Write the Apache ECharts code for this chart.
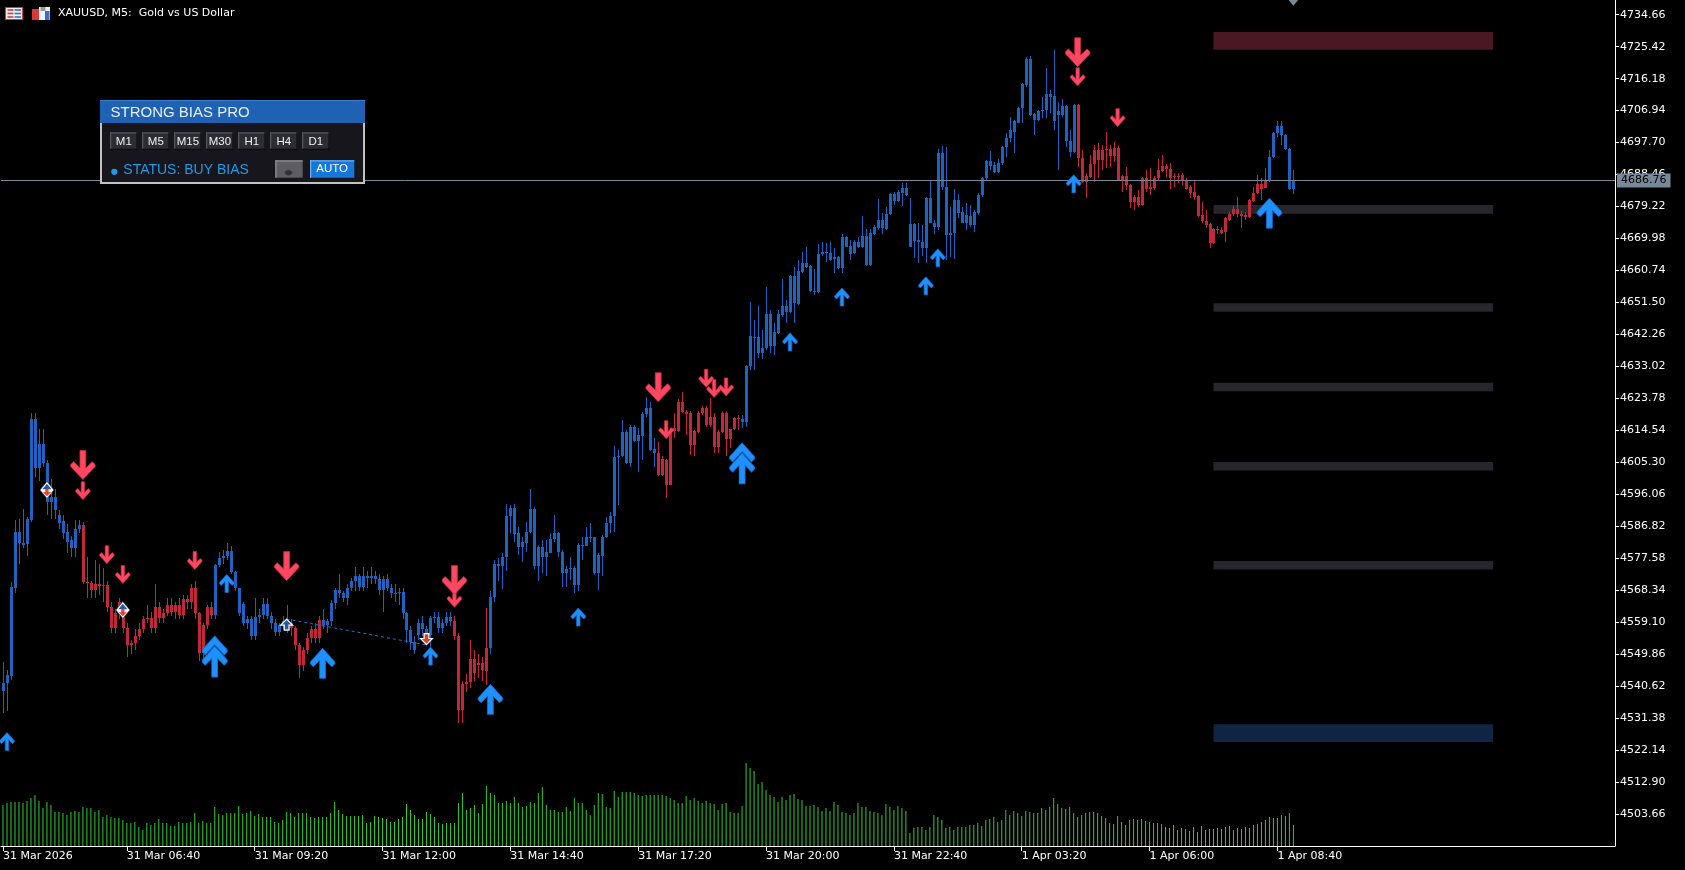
<!DOCTYPE html>
<html><head><meta charset="utf-8">
<script src="https://cdn.jsdelivr.net/npm/echarts@6.0.0/dist/echarts.min.js"></script>
<style>html,body{margin:0;padding:0;background:#000;}#c{width:1685px;height:870px;}</style>
</head><body><div id="c"></div>
<script>
// ---------- DATA (XAUUSD M5) ----------
const OPEN=[
4539.1,4541.5,4543.4,4569.0,4585.3,4581.9,4581.7,4588.6,4617.7,4603.6,
4610.6,4605.0,4593.7,4595.4,4590.1,4588.2,4585.3,4582.9,4580.5,4586.0,
4587.2,4570.8,4570.3,4568.4,4570.1,4569.6,4569.9,4563.6,4557.3,4561.7,
4561.7,4557.3,4552.5,4553.0,4555.0,4557.0,4560.0,4560.3,4557.3,4563.4,
4560.4,4561.7,4564.0,4561.9,4564.0,4561.2,4565.7,4564.8,4568.9,4561.7,
4550.1,4558.3,4563.4,4561.2,4575.6,4577.6,4578.1,4579.8,4573.7,4568.9,
4564.4,4559.0,4560.0,4555.0,4560.5,4561.2,4564.4,4561.0,4558.8,4556.4,
4558.3,4559.3,4558.8,4557.4,4552.5,4546.7,4551.1,4554.4,4557.0,4554.5,
4559.8,4558.3,4559.3,4564.6,4568.4,4567.5,4566.0,4569.0,4570.9,4572.3,
4569.3,4572.3,4571.8,4572.3,4571.6,4568.5,4571.5,4569.0,4567.5,4567.6,
4567.7,4561.7,4556.9,4553.5,4555.4,4558.8,4557.0,4555.5,4560.2,4560.6,
4557.4,4559.0,4560.7,4559.5,4555.0,4533.8,4541.3,4541.9,4548.4,4546.7,
4547.2,4545.1,4551.6,4566.5,4575.9,4575.2,4577.9,4589.8,4592.0,4584.8,
4580.9,4581.9,4585.3,4591.7,4575.4,4580.9,4577.9,4579.2,4583.1,4584.8,
4579.5,4573.2,4574.4,4574.7,4569.9,4581.4,4581.2,4583.6,4583.6,4573.2,
4578.2,4583.6,4587.7,4589.8,4606.7,4607.0,4614.2,4605.2,4615.6,4611.6,
4612.9,4619.3,4620.9,4609.1,4608.1,4601.6,4606.0,4598.8,4614.4,4614.4,
4622.8,4619.9,4619.5,4610.3,4614.2,4619.5,4620.9,4616.1,4618.3,4609.6,
4614.2,4619.5,4611.9,4614.8,4618.0,4617.7,4617.0,4633.0,4641.6,4641.4,
4637.0,4638.3,4648.2,4638.9,4642.8,4647.9,4650.5,4648.8,4659.1,4651.1,
4660.4,4662.8,4662.0,4654.9,4654.6,4665.5,4666.2,4665.9,4664.0,4664.6,
4661.6,4670.3,4667.8,4665.7,4669.1,4667.6,4670.7,4662.3,4671.3,4672.9,
4675.3,4672.6,4677.2,4682.8,4680.9,4683.0,4684.5,4674.2,4674.2,4669.6,
4669.1,4667.2,4681.6,4674.6,4673.2,4694.8,4685.0,4671.0,4671.7,4681.1,
4677.5,4674.6,4676.5,4673.9,4677.3,4682.6,4687.4,4692.4,4691.2,4689.3,
4691.7,4696.3,4698.9,4700.9,4703.5,4707.6,4714.3,4722.0,4706.0,4704.2,
4706.9,4707.1,4711.8,4711.2,4705.7,4705.7,4708.3,4698.3,4695.1,4708.6,
4693.2,4686.4,4687.9,4691.5,4695.6,4692.7,4695.6,4695.8,4693.8,4696.0,
4686.9,4688.1,4685.5,4680.6,4682.1,4679.7,4687.4,4684.2,4684.5,4687.4,
4689.6,4690.8,4690.0,4687.7,4688.1,4688.3,4686.9,4684.8,4683.5,4682.3,
4676.8,4675.1,4674.2,4668.8,4672.6,4672.4,4672.0,4675.3,4677.1,4678.4,
4677.1,4676.8,4676.1,4680.9,4683.0,4685.7,4684.5,4686.7,4693.4,4700.6,
4702.5,4699.9,4695.8,4684.2];
const CLOSE=[
4541.5,4543.9,4569.4,4585.3,4581.9,4581.4,4588.8,4617.7,4603.6,4610.6,
4605.0,4593.7,4595.4,4591.5,4587.9,4585.0,4582.4,4580.5,4586.0,4587.2,
4570.8,4570.3,4568.4,4570.1,4569.6,4569.9,4563.6,4557.3,4561.7,4565.0,
4557.3,4552.5,4553.0,4555.0,4557.0,4560.0,4560.3,4557.3,4563.4,4560.4,
4561.7,4564.0,4561.9,4564.0,4561.2,4565.7,4564.8,4568.9,4561.7,4550.1,
4558.3,4563.4,4561.2,4575.6,4577.6,4578.1,4579.8,4573.7,4568.9,4561.7,
4559.0,4560.0,4555.0,4560.5,4561.2,4564.4,4561.0,4558.8,4556.4,4558.3,
4559.3,4558.8,4557.4,4552.5,4546.7,4551.1,4554.4,4557.0,4554.5,4559.8,
4558.3,4559.3,4564.6,4568.4,4567.5,4566.0,4569.0,4570.9,4572.3,4569.3,
4572.3,4571.8,4572.3,4571.6,4568.5,4571.5,4569.0,4567.5,4567.6,4567.7,
4561.7,4556.9,4553.5,4551.0,4558.8,4557.0,4555.5,4560.2,4560.6,4557.4,
4559.0,4560.7,4559.5,4555.0,4533.8,4541.3,4541.9,4548.4,4544.3,4547.2,
4545.3,4551.6,4566.5,4575.9,4575.2,4578.0,4589.8,4592.0,4584.6,4580.9,
4582.4,4585.3,4591.7,4575.4,4580.9,4577.9,4579.5,4583.1,4584.8,4579.5,
4573.2,4574.4,4574.7,4569.9,4581.4,4581.2,4583.6,4583.8,4573.2,4578.5,
4583.6,4587.7,4589.8,4606.7,4607.1,4614.2,4605.2,4615.6,4611.6,4613.2,
4619.3,4620.9,4608.9,4608.1,4601.6,4606.2,4598.8,4614.4,4615.1,4622.8,
4619.7,4619.3,4610.3,4614.4,4619.5,4620.9,4616.1,4618.3,4609.6,4614.2,
4619.5,4611.9,4614.8,4618.0,4617.7,4617.0,4633.2,4641.8,4641.1,4637.0,
4638.3,4648.2,4638.9,4643.1,4648.2,4650.5,4648.8,4659.1,4651.3,4660.7,
4662.8,4661.8,4654.9,4654.6,4665.5,4666.2,4665.9,4663.8,4664.6,4661.6,
4670.3,4667.6,4665.5,4669.1,4667.6,4670.7,4662.3,4671.5,4673.2,4675.3,
4672.9,4677.2,4682.8,4680.9,4683.4,4684.5,4682.6,4667.6,4669.4,4669.1,
4667.2,4681.6,4674.6,4673.2,4694.8,4685.0,4671.0,4671.7,4681.1,4677.3,
4674.6,4676.8,4673.9,4677.5,4682.6,4687.4,4692.4,4690.9,4689.3,4691.7,
4696.5,4698.9,4701.2,4703.8,4707.6,4714.6,4722.0,4705.7,4704.2,4706.9,
4707.1,4711.8,4711.0,4703.8,4706.9,4708.3,4698.3,4695.1,4708.6,4693.2,
4686.4,4688.1,4691.5,4695.6,4692.7,4695.6,4695.8,4693.8,4696.0,4686.9,
4688.1,4685.5,4680.6,4682.1,4679.7,4687.4,4684.2,4685.0,4687.4,4689.8,
4690.8,4690.0,4687.4,4688.1,4687.7,4686.9,4684.2,4683.2,4682.1,4676.5,
4674.9,4673.9,4668.8,4672.6,4672.4,4671.7,4675.8,4677.1,4678.4,4677.1,
4676.5,4676.1,4681.1,4683.0,4685.7,4684.2,4686.7,4693.6,4700.6,4702.5,
4699.9,4695.8,4684.2,4686.76];
const HIGH=[
4547.7,4545.3,4570.8,4588.5,4589.0,4591.7,4589.6,4619.5,4619.5,4614.8,
4614.8,4606.0,4600.5,4597.5,4591.5,4590.0,4587.5,4584.0,4588.5,4588.5,
4588.0,4578.0,4571.0,4577.0,4576.0,4574.8,4571.0,4565.0,4563.0,4566.0,
4564.0,4559.0,4554.0,4557.0,4559.0,4561.0,4564.0,4562.0,4570.0,4565.0,
4563.0,4566.0,4566.0,4565.0,4566.0,4567.0,4567.0,4570.0,4571.0,4562.0,
4559.0,4564.0,4565.0,4576.0,4579.5,4580.0,4582.0,4581.0,4574.0,4569.0,
4565.0,4561.0,4561.0,4566.0,4563.0,4566.0,4566.0,4562.0,4560.0,4559.0,
4561.0,4564.0,4560.0,4558.0,4553.0,4552.0,4556.0,4558.0,4559.0,4561.0,
4563.0,4560.0,4565.5,4569.0,4573.0,4568.0,4570.0,4572.0,4575.0,4573.0,
4575.0,4574.0,4575.0,4574.0,4573.0,4572.5,4573.0,4570.0,4570.0,4569.0,
4569.0,4562.0,4558.0,4555.0,4560.0,4561.0,4558.0,4561.0,4562.0,4562.0,
4560.0,4562.0,4562.0,4561.0,4556.0,4542.0,4544.0,4554.0,4551.0,4550.0,
4549.0,4563.1,4568.0,4577.0,4577.5,4579.2,4593.3,4593.0,4593.3,4586.7,
4583.8,4588.0,4597.5,4592.5,4581.4,4582.9,4582.9,4584.8,4590.1,4585.3,
4580.0,4575.2,4577.9,4575.2,4581.9,4583.8,4586.7,4587.9,4583.8,4579.0,
4584.3,4589.6,4590.8,4610.0,4608.9,4617.5,4614.6,4616.1,4616.1,4615.1,
4619.9,4624.3,4622.8,4612.2,4611.3,4607.0,4606.2,4615.1,4619.5,4623.5,
4625.7,4620.4,4620.0,4614.6,4620.0,4621.6,4621.6,4623.8,4619.5,4614.5,
4620.0,4620.0,4615.0,4618.5,4619.0,4619.0,4633.4,4651.7,4646.4,4650.5,
4643.6,4656.1,4649.3,4645.5,4649.3,4658.2,4652.2,4659.4,4661.8,4663.8,
4666.2,4667.4,4662.3,4661.1,4668.4,4669.1,4668.6,4669.1,4667.2,4664.9,
4671.3,4670.7,4669.6,4669.6,4670.3,4676.5,4672.6,4672.6,4673.9,4681.3,
4677.4,4679.0,4683.2,4683.5,4684.0,4686.1,4685.9,4681.6,4674.5,4674.4,
4673.9,4682.1,4686.9,4675.4,4695.8,4696.7,4696.5,4679.2,4684.2,4682.9,
4679.2,4680.1,4679.7,4678.2,4683.0,4687.9,4692.7,4695.4,4692.2,4692.9,
4696.7,4700.6,4705.0,4704.2,4708.1,4714.8,4722.5,4722.7,4706.2,4707.1,
4711.0,4719.2,4712.9,4724.5,4709.5,4710.2,4708.6,4701.3,4708.9,4708.9,
4695.6,4688.8,4694.1,4697.0,4697.5,4697.0,4700.9,4697.0,4698.0,4697.0,
4688.3,4690.6,4685.7,4682.6,4684.0,4687.7,4689.8,4690.3,4688.1,4692.9,
4694.1,4691.5,4691.9,4688.8,4689.0,4688.8,4687.4,4685.5,4686.7,4682.6,
4680.6,4678.2,4674.4,4672.9,4673.6,4673.4,4676.3,4677.5,4679.4,4681.9,
4677.8,4677.5,4681.3,4685.0,4688.3,4687.4,4690.3,4695.6,4700.9,4703.8,
4703.8,4700.2,4696.1,4689.8];
const LOW=[
4532.8,4533.3,4542.5,4567.5,4576.0,4580.5,4578.1,4588.0,4601.0,4600.0,
4604.0,4590.0,4589.0,4588.8,4586.0,4583.0,4579.0,4578.0,4578.0,4585.0,
4570.0,4566.0,4566.0,4566.0,4567.0,4565.0,4562.0,4556.0,4556.0,4560.0,
4556.0,4549.0,4550.0,4551.0,4554.0,4556.0,4559.0,4556.0,4556.0,4559.0,
4559.0,4561.0,4561.0,4560.0,4560.0,4560.0,4563.0,4563.0,4560.0,4548.0,
4547.0,4557.0,4560.0,4560.0,4575.0,4576.0,4577.0,4573.0,4568.0,4561.0,
4558.0,4557.0,4554.0,4554.0,4559.0,4560.0,4560.0,4557.0,4555.0,4555.0,
4557.0,4556.0,4555.0,4551.0,4543.0,4545.0,4550.0,4553.0,4553.0,4553.0,
4557.0,4556.0,4558.0,4563.0,4566.0,4565.0,4564.0,4568.0,4568.0,4568.0,
4568.0,4569.0,4570.0,4570.0,4567.0,4562.0,4568.0,4566.0,4565.0,4564.0,
4560.0,4553.0,4551.0,4550.0,4554.0,4555.0,4554.0,4552.0,4559.0,4556.0,
4556.0,4558.0,4558.0,4554.0,4530.0,4530.0,4539.0,4540.0,4542.0,4543.0,
4542.0,4541.0,4550.0,4565.0,4571.0,4568.6,4574.0,4585.0,4582.4,4578.5,
4576.6,4579.5,4585.0,4574.4,4571.1,4573.2,4572.3,4579.0,4582.4,4578.0,
4569.2,4569.2,4571.3,4567.6,4568.0,4577.1,4581.0,4582.4,4572.8,4568.4,
4572.5,4583.4,4585.0,4585.3,4593.0,4606.8,4604.8,4603.9,4611.3,4602.6,
4606.0,4618.5,4608.7,4603.9,4601.2,4601.2,4594.9,4598.8,4612.2,4614.0,
4619.5,4613.2,4607.4,4607.1,4613.9,4619.0,4615.6,4615.6,4608.1,4608.1,
4613.7,4607.0,4609.3,4614.7,4614.7,4615.1,4615.6,4632.0,4632.0,4635.4,
4635.1,4637.8,4636.8,4636.3,4642.5,4647.4,4645.5,4648.4,4645.5,4650.8,
4659.9,4661.4,4654.6,4653.7,4654.1,4664.9,4663.3,4663.6,4659.9,4661.1,
4660.1,4667.4,4663.8,4665.5,4667.2,4667.2,4662.0,4662.0,4671.0,4672.4,
4671.3,4672.4,4676.8,4679.7,4680.6,4679.4,4682.3,4667.4,4664.3,4663.0,
4664.9,4663.0,4674.4,4671.3,4672.4,4684.0,4663.8,4664.7,4664.2,4675.8,
4674.4,4672.5,4673.4,4672.0,4676.8,4682.1,4686.9,4689.8,4689.0,4689.0,
4691.2,4693.4,4698.0,4694.8,4703.3,4703.3,4713.9,4705.4,4699.9,4704.0,
4704.7,4704.7,4706.2,4701.3,4689.8,4705.2,4696.5,4693.6,4694.6,4690.7,
4685.9,4681.6,4687.4,4686.4,4687.4,4689.8,4690.3,4690.6,4692.2,4686.7,
4683.5,4684.0,4678.7,4678.2,4679.0,4679.4,4683.5,4682.6,4684.0,4686.7,
4689.3,4687.7,4684.2,4684.8,4685.9,4685.5,4684.0,4681.6,4681.1,4676.3,
4674.6,4672.9,4667.2,4668.4,4671.3,4671.3,4669.1,4675.1,4676.5,4676.3,
4672.9,4675.3,4675.8,4680.6,4682.8,4681.1,4684.5,4686.4,4693.2,4699.4,
4697.0,4695.6,4684.0,4682.9];
const VOLUME=[
820,860,880,880,880,860,900,960,1020,900,
760,880,820,680,680,660,620,680,700,680,
780,760,760,680,720,580,620,580,560,560,
520,460,460,480,380,320,460,420,460,540,
460,460,400,400,480,460,460,480,660,460,
500,460,460,780,640,620,660,660,660,800,
640,660,700,600,640,580,580,580,480,460,
520,680,660,580,660,660,660,580,560,580,
580,580,660,880,720,640,600,600,600,600,
620,460,480,600,580,560,540,480,480,540,
580,840,720,620,540,540,680,640,580,460,
440,460,460,460,860,1060,720,760,820,660,
840,1200,1060,1020,860,860,900,860,980,860,
780,800,880,860,1060,1180,820,720,720,680,
680,780,700,960,860,860,720,620,820,1060,
1040,780,760,1100,980,1080,1080,1080,1060,1020,
1000,1020,1020,1020,1020,1020,1000,960,920,860,
860,1000,920,960,900,860,900,860,840,720,
840,860,680,660,660,800,1660,1560,1500,1240,
1280,1120,1020,980,880,980,920,1020,1040,940,
920,800,800,820,780,700,760,
700,880,820,680,660,620,660,860,780,780,700,680,660,620,840,780,720,800,760,700,
260,360,380,380,320,380,620,580,520,360,380,320,380,380,380,420,420,460,400,520,540,580,480,520,
720,620,700,660,600,700,680,660,660,760,720,780,
960,
840,760,740,780,660,580,620,660,680,680,660,600,560,460,440,600,480,420,520,540,
520,540,500,480,460,460,440,380,360,420,320,360,340,300,380,280,400,320,340,340,
360,340,380,400,320,360,340,380,360,420,440,480,520,580,560,560,620,600,660,420];
const BIAS_SEGMENTS=[[0,19,'buy'],[20,52,'sell'],[53,71,'buy'],[72,79,'sell'],[80,112,'buy'],[113,121,'sell'],[122,163,'buy'],[164,184,'sell'],[185,268,'buy'],[269,316,'sell'],[317,323,'buy']];
const TICK_IDX=[0,31,63,95,127,159,191,223,255,287,319];
const TICK_LABELS=['31 Mar 2026','31 Mar 06:40','31 Mar 09:20','31 Mar 12:00','31 Mar 14:40','31 Mar 17:20','31 Mar 20:00','31 Mar 22:40','1 Apr 03:20','1 Apr 06:00','1 Apr 08:40'];
const Y_TICKS=[4503.66,4512.90,4522.14,4531.38,4540.62,4549.86,4559.10,4568.34,4577.58,4586.82,4596.06,4605.30,4614.54,4623.78,4633.02,4642.26,4651.50,4660.74,4669.98,4679.22,4688.46,4697.70,4706.94,4716.18,4725.42,4734.66];
const LAST_PRICE=4686.76;
const ZONES=[[4724.55,4729.66,'sell'],[4677.15,4679.66,'level'],[4648.8,4651.3,'level'],[4625.8,4628.3,'level'],[4602.9,4605.4,'level'],[4574.3,4576.8,'level'],[4524.5,4529.6,'buy']];
const ZONE_FROM=303, ZONE_TO=373;
const SMALL_UP=[[1,4524.6],[56,4570.3],[107,4549.3],[144,4560.6],[197,4640.1],[210,4653.1],[231,4656.3],[234,4664.4],[268,4685.8]];
const BIG_UP=[[80,4547.2],[122,4536.8],[317,4677.3]];
const DOUBLE_UP=[[53,4549.2],[185,4605.0]];
const SMALL_DOWN=[[20,4597.1],[26,4578.6],[30,4572.9],[48,4576.9],[113,4566.0],[166,4614.7],[176,4629.6],[178,4626.6],[181,4627.1],[269,4716.7],[279,4704.9]];
const BIG_DOWN=[[20,4604.5],[71,4575.3],[113,4571.3],[164,4627.0],[269,4723.8]];
const DIAMONDS=[[11,4597.3],[30,4562.6]];
const SIGNAL_UP=[[71,4558.4]];
const SIGNAL_DOWN=[[106,4554.2]];
const TREND=[[71,4560.0],[106,4552.5]];
const LAST_MARK=[[323,4738.1]];
const TF_BUTTONS=['M1','M5','M15','M30','H1','H4','D1'];

// ---------- BUILD ----------
const NCAT=404;
const CATS=[];
for(let k=0;k<NCAT;k++){
  if(k<=226){const m=245+5*k;CATS.push('31.03 '+String(Math.floor(m/60)).padStart(2,'0')+':'+String(m%60).padStart(2,'0'));}
  else if(k<OPEN.length){const m=60+5*(k-227);CATS.push('01.04 '+String(Math.floor(m/60)).padStart(2,'0')+':'+String(m%60).padStart(2,'0'));}
  else CATS.push('f'+k);
}
const BLUE='#1F63C1', RED='#C3283A';
function biasColor(k){for(const s of BIAS_SEGMENTS){if(k>=s[0]&&k<=s[1])return s[2]==='buy'?BLUE:RED;}return BLUE;}
const candleRows=OPEN.map((o,k)=>[k,o,CLOSE[k],LOW[k],HIGH[k]]);
const ZONE_COLORS={sell:'#4A1822',level:'#26262C',buy:'#102446'};

const P_DOWN='path://M3.8,0L6.2,0L6.2,7.2L8.8,4.6L10,5.8L10,6.6L5,12L0,6.6L0,5.8L1.2,4.6L3.8,7.2Z';
const P_UP='path://M3.8,12L6.2,12L6.2,4.8L8.8,7.4L10,6.2L10,5.4L5,0L0,5.4L0,6.2L1.2,7.4L3.8,4.8Z';
const P_DUP='path://M5,0L0,5.4L0,6.2L1.2,7.4L5,3.4L8.8,7.4L10,6.2L10,5.4ZM3.8,16L6.2,16L6.2,8.8L8.8,11.4L10,10.2L10,9.4L5,4L0,9.4L0,10.2L1.2,11.4L3.8,8.8Z';
const P_SIG_UP='path://M5,0L10,5L7,5L7,9L3,9L3,5L0,5Z';
const P_SIG_DN='path://M3,0L7,0L7,4L10,4L5,9L0,4L3,4Z';

function marks(data,symbol,size,fill,stroke,bw,z,extra){
  return Object.assign({type:'scatter',data:data,symbol:symbol,symbolSize:size,silent:true,z:z,
    itemStyle:{color:fill,borderColor:stroke,borderWidth:bw,opacity:1},emphasis:{disabled:true}},extra||{});
}

const FONT_AX='"DejaVu Sans", sans-serif';
const FONT_UI='"Liberation Sans", Arial, sans-serif';

// panel graphics
const G=[];
G.push({type:'rect',shape:{x:5.5,y:7.5,width:17,height:12},style:{fill:'#F2F2F2',stroke:'#D83A3A',lineWidth:1.2},z:100});
[10,13.5,17].forEach(y=>{G.push({type:'rect',shape:{x:7.5,y:y-0.8,width:6,height:1.6},style:{fill:'#D83A3A'},z:101});G.push({type:'rect',shape:{x:14.5,y:y-0.8,width:6.5,height:1.6},style:{fill:'#2F6FD0'},z:101});});
G.push({type:'rect',shape:{x:32,y:9,width:7,height:11},style:{fill:'#D83A3A'},z:100});
G.push({type:'rect',shape:{x:39,y:7,width:11,height:13},style:{fill:'#F2F2F2'},z:100});
G.push({type:'rect',shape:{x:40.5,y:7,width:5,height:4},style:{fill:'#9A9A9A'},z:101});
G.push({type:'rect',shape:{x:45,y:11,width:4.5,height:9},style:{fill:'#2F6FD0'},z:101});
G.push({type:'text',style:{text:'XAUUSD, M5:  Gold vs US Dollar',x:58,y:13.5,fill:'#FFFFFF',font:'11px '+FONT_AX,verticalAlign:'middle',align:'left'},z:100});
G.push({type:'rect',shape:{x:101,y:101,width:263,height:82},style:{fill:'#16161C',stroke:'#C2C2C2',lineWidth:2},z:100});
G.push({type:'rect',shape:{x:100,y:100,width:265,height:23},style:{fill:'#1F62B3'},z:101});
G.push({type:'rect',shape:{x:100,y:100,width:265,height:1},style:{fill:'#3D80D2'},z:102});
G.push({type:'text',style:{text:'STRONG BIAS PRO',x:110.5,y:112.5,fill:'#E8EEF6',font:'15px '+FONT_UI,verticalAlign:'middle',align:'left'},z:102});
TF_BUTTONS.forEach((t,i)=>{
  const x=110+32*i,y=132.3,w=27.7,h=17.7;
  G.push({type:'rect',shape:{x:x,y:y,width:w,height:h},style:{fill:'#2C2C33'},z:101});
  G.push({type:'rect',shape:{x:x,y:y,width:w,height:1.3},style:{fill:'#56565E'},z:102});
  G.push({type:'rect',shape:{x:x,y:y,width:1.3,height:h},style:{fill:'#56565E'},z:102});
  G.push({type:'rect',shape:{x:x,y:y+h-1.3,width:w,height:1.3},style:{fill:'#0E0E11'},z:102});
  G.push({type:'rect',shape:{x:x+w-1.3,y:y,width:1.3,height:h},style:{fill:'#0E0E11'},z:102});
  G.push({type:'text',style:{text:t,x:x+w/2,y:y+h/2+0.3,fill:'#F0F0F0',font:'11.5px '+FONT_UI,verticalAlign:'middle',align:'center'},z:103});
});
G.push({type:'circle',shape:{cx:114.3,cy:171.8,r:3.1},style:{fill:'#1E9BEA'},z:102});
G.push({type:'text',style:{text:'STATUS: BUY BIAS',x:123.3,y:170.6,fill:'#1E9BEA',font:'14px '+FONT_UI,verticalAlign:'middle',align:'left'},z:102});
G.push({type:'rect',shape:{x:275.3,y:160.3,width:27.4,height:17.4},style:{fill:'#5D5D63'},z:101});
G.push({type:'rect',shape:{x:275.3,y:160.3,width:27.4,height:1.3},style:{fill:'#8E8E94'},z:102});
G.push({type:'rect',shape:{x:275.3,y:160.3,width:1.3,height:17.4},style:{fill:'#8E8E94'},z:102});
G.push({type:'ellipse',shape:{cx:288.5,cy:172.6,rx:3.6,ry:2.6},style:{fill:'#303036',stroke:'#46464C',lineWidth:0.8},z:102});
G.push({type:'rect',shape:{x:310,y:160.3,width:44.3,height:17.4},style:{fill:'#1577DA'},z:101});
G.push({type:'rect',shape:{x:310,y:160.3,width:44.3,height:1.3},style:{fill:'#66AFF3'},z:102});
G.push({type:'rect',shape:{x:310,y:160.3,width:1.3,height:17.4},style:{fill:'#66AFF3'},z:102});
G.push({type:'text',style:{text:'AUTO',x:332.2,y:169.3,fill:'#FFFFFF',font:'11.5px '+FONT_UI,verticalAlign:'middle',align:'center'},z:103});

const chart=echarts.init(document.getElementById('c'),null,{renderer:'canvas'});
chart.setOption({
  backgroundColor:'#000000',
  animation:false,
  textStyle:{fontFamily:FONT_AX},
  grid:{left:0,right:70,top:0,bottom:24,containLabel:false},
  xAxis:{type:'category',data:CATS,boundaryGap:true,
    axisLine:{show:true,lineStyle:{color:'#FFFFFF',width:1}},
    axisTick:{show:true,alignWithLabel:true,length:5,lineStyle:{color:'#FFFFFF'},interval:(i)=>TICK_IDX.indexOf(i)>=0},
    axisLabel:{show:true,interval:(i)=>TICK_IDX.indexOf(i)>=0,formatter:(v,i)=>{const j=TICK_IDX.indexOf(i);return j>=0?TICK_LABELS[j]:'';},
      color:'#FFFFFF',fontFamily:FONT_AX,fontSize:11,align:'left',margin:5,hideOverlap:false},
    splitLine:{show:false}},
  yAxis:[
    {type:'value',position:'right',min:4494.41,max:4738.91,scale:true,
     axisLine:{show:true,lineStyle:{color:'#FFFFFF',width:1}},
     axisTick:{show:true,length:4,inside:false,lineStyle:{color:'#FFFFFF'},customValues:Y_TICKS},
     axisLabel:{show:true,customValues:Y_TICKS,formatter:(v)=>Number(v).toFixed(2),color:'#FFFFFF',fontFamily:FONT_AX,fontSize:11,margin:5,align:'left',showMinLabel:true,showMaxLabel:true},
     splitLine:{show:false}},
    {type:'value',min:0,max:16920,show:false,splitLine:{show:false}}
  ],
  series:[
    {type:'bar',yAxisIndex:1,data:VOLUME,barWidth:1,itemStyle:{color:'#32CD32'},silent:true,z:1,emphasis:{disabled:true}},
    {type:'custom',z:1,silent:true,
     data:ZONES.map(z=>[ZONE_FROM,ZONE_TO,z[0],z[1]]),
     encode:{x:[0,1],y:[2,3]},
     renderItem:(params,api)=>{
       const a=api.coord([api.value(0),api.value(3)]);
       const b=api.coord([api.value(1),api.value(2)]);
       return {type:'rect',shape:{x:a[0],y:a[1],width:b[0]-a[0],height:b[1]-a[1]},style:{fill:ZONE_COLORS[ZONES[params.dataIndex][2]]}};
     }},
    {type:'custom',z:3,silent:true,data:candleRows,
     encode:{x:0,y:[1,2,3,4]},
     renderItem:(params,api)=>{
       const k=api.value(0);
       const pO=api.coord([k,api.value(1)]), pC=api.coord([k,api.value(2)]);
       const pL=api.coord([k,api.value(3)]), pH=api.coord([k,api.value(4)]);
       const xc=Math.round(pO[0]);
       const top=Math.round(Math.min(pO[1],pC[1])), bot=Math.round(Math.max(pO[1],pC[1]));
       const col=biasColor(params.dataIndex);
       return {type:'group',children:[
         {type:'rect',shape:{x:xc,y:Math.round(pH[1]),width:1,height:Math.max(1,Math.round(pL[1])-Math.round(pH[1]))},style:{fill:col}},
         {type:'rect',shape:{x:xc-1,y:top,width:3,height:Math.max(1,bot-top)},style:{fill:col}}
       ]};
     }},
    {type:'line',data:TREND,symbol:'none',silent:true,z:4,lineStyle:{color:'#1E74D6',width:1,type:[3,3]},emphasis:{disabled:true},
     markLine:{silent:true,symbol:['none','none'],animation:false,
       data:[{yAxis:LAST_PRICE}],
       lineStyle:{color:'#778899',width:1,type:'solid'},
       label:{show:true,position:'end',distance:2,formatter:LAST_PRICE.toFixed(2),color:'#000000',backgroundColor:'#778899',
         fontFamily:FONT_AX,fontSize:11,lineHeight:12,padding:[1,4,1,4]},
       emphasis:{disabled:true}}},
    marks(SMALL_UP,P_UP,[14.5,18],'#1E90FF','#176CCB',0.7,6),
    marks(BIG_UP,P_UP,[24.5,30],'#1E90FF','#176CCB',0.8,7),
    marks(DOUBLE_UP,P_DUP,[25,41],'#1E90FF','#176CCB',0.8,7),
    marks(SMALL_DOWN,P_DOWN,[14.5,18],'#FF4762','#C82A40',0.7,6),
    marks(BIG_DOWN,P_DOWN,[24.5,29],'#FF4762','#C82A40',0.8,7),
    marks(DIAMONDS,'diamond',[14,17],'#FFFFFF','#333333',0.6,8),
    marks(DIAMONDS,'triangle',[9,5.5],'#1A5CB0','#1A5CB0',0,9,{symbolOffset:[0,-3.5]}),
    marks(DIAMONDS,P_SIG_DN,[8,7.5],'#E8402A','#E8402A',0,9,{symbolOffset:[0,2.5]}),
    marks(SIGNAL_UP,P_SIG_UP,[12,11],'#1A5CB0','#FFFFFF',1.2,8),
    marks(SIGNAL_DOWN,P_SIG_DN,[12,11],'#E0402A','#FFFFFF',1.2,8),
    marks(LAST_MARK,'triangle',[10,6],'#778899','#778899',0,8,{symbolRotate:180,clip:false})
  ],
  graphic:G
});
</script></body></html>
